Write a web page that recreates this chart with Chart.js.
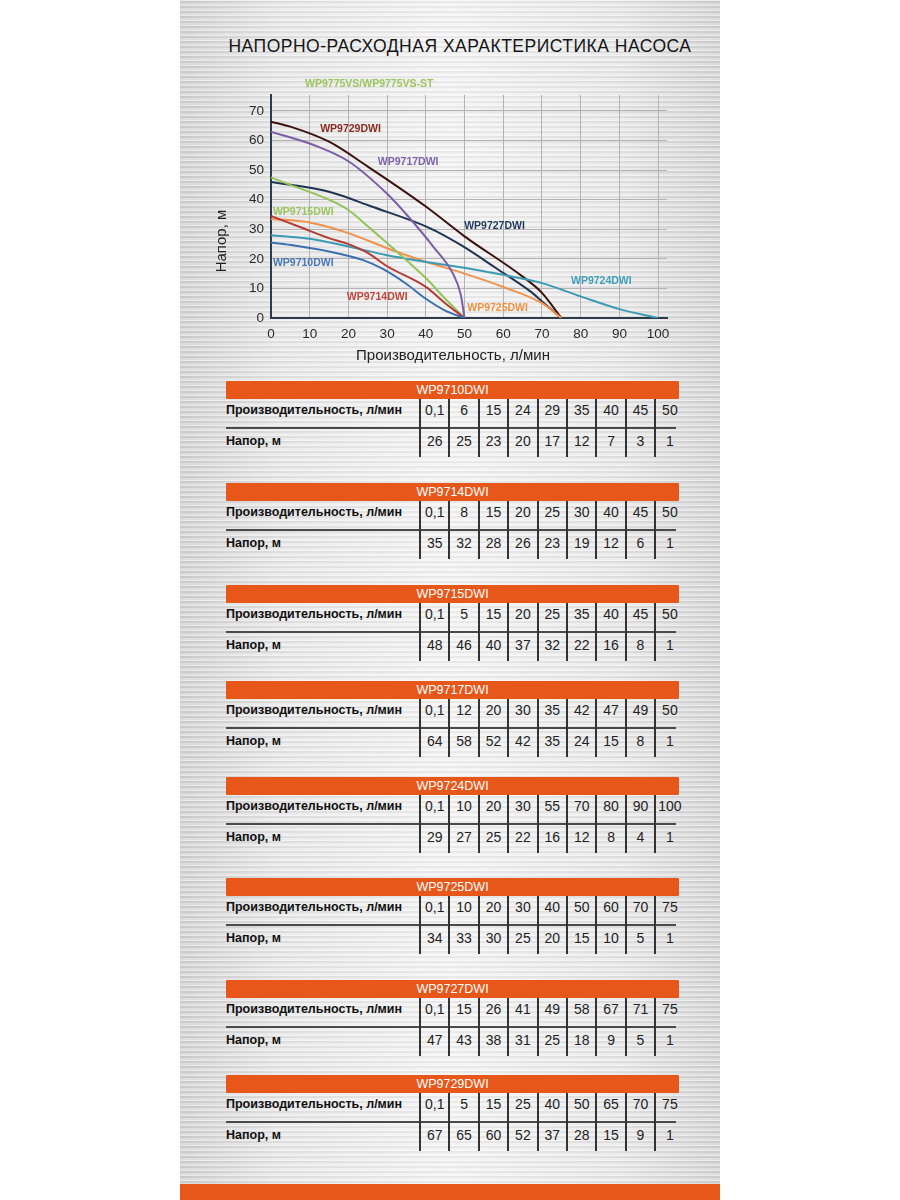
<!DOCTYPE html>
<html>
<head>
<meta charset="utf-8">
<script src="https://cdn.jsdelivr.net/npm/chart.js@4.4.1/dist/chart.umd.min.js"></script>
<style>
  html,body{margin:0;padding:0;background:#fff;width:900px;height:1200px;overflow:hidden;font-family:"Liberation Sans",Arial,sans-serif;}
  #panel{position:absolute;left:180px;top:0;width:540px;height:1200px;
    background:
      repeating-linear-gradient(180deg, rgba(255,255,255,0.5) 0px, rgba(255,255,255,0.5) 1px, rgba(0,0,0,0.045) 1px, rgba(0,0,0,0.045) 3px, rgba(255,255,255,0.2) 3px, rgba(255,255,255,0.2) 5px),
      linear-gradient(90deg,#d2d2d2 0%,#e7e7e7 18%,#f3f3f3 50%,#e7e7e7 82%,#d4d4d4 100%);}
  #bottomstrip{position:absolute;left:180px;top:1184px;width:540px;height:16px;background:#e8571a;}
  #title{position:absolute;left:190px;width:540px;top:36px;text-align:center;font-size:17.5px;color:#151515;letter-spacing:0.5px;white-space:nowrap;}
  #chartbox{position:absolute;left:200px;top:60px;width:500px;height:320px;}
  .tbl{position:absolute;left:226px;width:453px;height:80px;}
  .tbl .hdr{position:absolute;left:0;top:0;width:453px;height:18px;background:#e8571a;color:#fff;font-size:12.5px;line-height:18px;text-align:center;border-radius:1px;}
  .tbl .lab{position:absolute;left:0;font-weight:bold;font-size:12.5px;color:#111;white-space:nowrap;}
  .tbl .val{position:absolute;width:29.4px;text-align:center;font-size:14px;color:#222;}
  .tbl .sep{position:absolute;left:0;top:46px;width:450px;height:2px;background:#4a4a4a;}
  .tbl .vl{position:absolute;top:18px;width:2px;height:58px;background:#333;}
</style>
</head>
<body>
<div id="panel"></div>
<div id="bottomstrip"></div>
<div id="title"></div>
<div id="chartbox"><canvas id="c"></canvas></div>
<div id="tables"></div>
<script>
// ---------- text ----------
const chartTitle = "НАПОРНО-РАСХОДНАЯ ХАРАКТЕРИСТИКА НАСОСА";
const xAxisTitle = "Производительность, л/мин";
const yAxisTitle = "Напор, м";
const rowLabelFlow = "Производительность, л/мин";
const rowLabelHead = "Напор, м";
const extraLabel = "WP9775VS/WP9775VS-ST";

// ---------- models ----------
const models = ["WP9710DWI","WP9714DWI","WP9715DWI","WP9717DWI","WP9724DWI","WP9725DWI","WP9727DWI","WP9729DWI"];

// ---------- table values (flow l/min, head m) ----------
const q9710 = ["0,1",6,15,24,29,35,40,45,50];
const h9710 = [26,25,23,20,17,12,7,3,1];
const q9714 = ["0,1",8,15,20,25,30,40,45,50];
const h9714 = [35,32,28,26,23,19,12,6,1];
const q9715 = ["0,1",5,15,20,25,35,40,45,50];
const h9715 = [48,46,40,37,32,22,16,8,1];
const q9717 = ["0,1",12,20,30,35,42,47,49,50];
const h9717 = [64,58,52,42,35,24,15,8,1];
const q9724 = ["0,1",10,20,30,55,70,80,90,100];
const h9724 = [29,27,25,22,16,12,8,4,1];
const q9725 = ["0,1",10,20,30,40,50,60,70,75];
const h9725 = [34,33,30,25,20,15,10,5,1];
const q9727 = ["0,1",15,26,41,49,58,67,71,75];
const h9727 = [47,43,38,31,25,18,9,5,1];
const q9729 = ["0,1",5,15,25,40,50,65,70,75];
const h9729 = [67,65,60,52,37,28,15,9,1];

// ---------- curve values ----------
const x9710 = [0,6,15,24,29,35,40,45,50];
const y9710 = [25.5,24.5,22.5,19.5,16.5,11.5,6.5,2.5,0];
const x9714 = [0,8,15,20,25,30,40,45,50];
const y9714 = [34.5,30.5,27,25,22,17.5,10.5,5,0];
const x9715 = [0,5,15,20,25,35,40,45,50];
const y9715 = [47.5,45,40,36.5,31,19.5,13.5,6.5,0];
const x9717 = [0,12,20,30,35,42,47,49,50];
const y9717 = [63,58,53,42,35,24,15,8,0];
const x9724 = [0,10,20,30,55,70,80,90,100];
const y9724 = [28,26.8,24.2,21.2,15.8,11.8,7.3,3,0];
const x9725 = [0,10,20,30,40,50,60,70,75];
const y9725 = [33.5,32.3,28.7,23.6,19,15,10.5,5,0];
const x9727 = [0,15,26,41,49,58,67,71,75];
const y9727 = [46,42.7,37.7,30.4,24.7,17,9,4.5,0];
const x9729 = [0,5,15,25,40,50,65,70,75];
const y9729 = [66.4,64.7,59.6,51.2,37.7,27.6,14,8.5,0];

// ---------- axes ----------
const xTicks = [0,10,20,30,40,50,60,70,80,90,100];
const yTicks = [0,10,20,30,40,50,60,70];

// ---------- styles ----------
const lineColors  = ["#3d6fae","#b43c34","#95c257","#7b5ea7","#3a9bb3","#f2914a","#1f3452","#3b1210"];
const labelColors = ["#4a78b6","#c0463c","#9cc55f","#7f63ab","#3d9fba","#f0923f","#1f3a5a","#8a2a1e"];
const extraLabelColor = "#9cc55f";
// label anchor points in data units (left edge, vertical middle)
const labelAnchorX = [0.5,19.6,0.5,27.6,77.5,50.7,49.9,12.7];
const labelAnchorY = [18.6,7.2,35.8,52.6,12.5,3.4,31,64];
const extraAnchor = [8.8,79];

const tableTops = [381,483,585,681,777,878,980,1075];

// ---------- title ----------
document.getElementById('title').textContent = chartTitle;

// ---------- tables ----------
const tq = [q9710,q9714,q9715,q9717,q9724,q9725,q9727,q9729];
const th = [h9710,h9714,h9715,h9717,h9724,h9725,h9727,h9729];
const tablesDiv = document.getElementById('tables');
models.forEach((m,i)=>{
  const d = document.createElement('div');
  d.className='tbl'; d.style.top = tableTops[i]+'px';
  let html = `<div class="hdr">${m}</div>`;
  html += `<div class="lab" style="top:22px">${rowLabelFlow}</div>`;
  html += `<div class="lab" style="top:53px">${rowLabelHead}</div>`;
  html += `<div class="sep"></div>`;
  const colStart = 194; // px inside table
  const cw = 29.4;
  for(let k=0;k<9;k++){
    const left = colStart + k*cw;
    html += `<div class="vl" style="left:${left-1}px"></div>`;
    html += `<div class="val" style="left:${left}px;top:21px">${tq[i][k]}</div>`;
    html += `<div class="val" style="left:${left}px;top:52px">${th[i][k]}</div>`;
  }
  d.innerHTML = html;
  tablesDiv.appendChild(d);
});

// ---------- chart ----------
const cx = [x9710,x9714,x9715,x9717,x9724,x9725,x9727,x9729];
const cy = [y9710,y9714,y9715,y9717,y9724,y9725,y9727,y9729];
const datasets = models.map((m,i)=>({
  label:m,
  data: cx[i].map((x,k)=>({x:x,y:cy[i][k]})),
  borderColor: lineColors[i],
  backgroundColor: lineColors[i],
  borderWidth: 2,
  pointRadius: 0,
  tension: 0.4,
  cubicInterpolationMode: 'monotone',
  fill:false
}));

const overlay = {
  id:'overlay',
  afterDatasetsDraw(chart){
    const ctx = chart.ctx, xs = chart.scales.x, ys = chart.scales.y, ca = chart.chartArea;
    ctx.save();
    ctx.textBaseline='middle';
    ctx.textAlign='left';
    ctx.font = 'bold 10.5px "Liberation Sans", Arial, sans-serif';
    models.forEach((m,i)=>{
      ctx.fillStyle = labelColors[i];
      ctx.fillText(m, xs.getPixelForValue(labelAnchorX[i]), ys.getPixelForValue(labelAnchorY[i]));
    });
    ctx.fillStyle = extraLabelColor;
    ctx.fillText(extraLabel, xs.getPixelForValue(extraAnchor[0]), ys.getPixelForValue(extraAnchor[1]));
    // axis titles
    ctx.fillStyle = '#222';
    ctx.font = '15px "Liberation Sans", Arial, sans-serif';
    ctx.textAlign='center';
    ctx.fillText(xAxisTitle, ca.left + 182, ca.bottom + 38);
    ctx.translate(ca.left - 49, ca.top + 146);
    ctx.rotate(-Math.PI/2);
    ctx.fillText(yAxisTitle, 0, 0);
    ctx.restore();
  }
};

new Chart(document.getElementById('c'), {
  type:'line',
  data:{datasets},
  options:{
    responsive:true, maintainAspectRatio:false, animation:false,
    layout:{padding:{left:0,top:35,right:33,bottom:0}},
    plugins:{legend:{display:false},tooltip:{enabled:false}},
    scales:{
      x:{type:'linear',min:0,max:102.3,
        afterBuildTicks(a){a.ticks = xTicks.map(v=>({value:v}));},
        afterFit(a){a.height=62;},
        grid:{color:'#b3b3b3',lineWidth:1,drawTicks:false},
        border:{display:true,color:'#2e3b4a',width:2},
        ticks:{color:'#2a2a2a',font:{size:13.5,family:'"Liberation Sans", Arial, sans-serif'},padding:8,maxRotation:0,autoSkip:false}
      },
      y:{type:'linear',min:0,max:75.4,
        afterBuildTicks(a){a.ticks = yTicks.map(v=>({value:v}));},
        afterFit(a){a.width=71;},
        grid:{color:'#b3b3b3',lineWidth:1,drawTicks:false},
        border:{display:true,color:'#2e3b4a',width:2},
        ticks:{color:'#2a2a2a',font:{size:13.5,family:'"Liberation Sans", Arial, sans-serif'},padding:7}
      }
    }
  },
  plugins:[overlay]
});
</script>
</body>
</html>
